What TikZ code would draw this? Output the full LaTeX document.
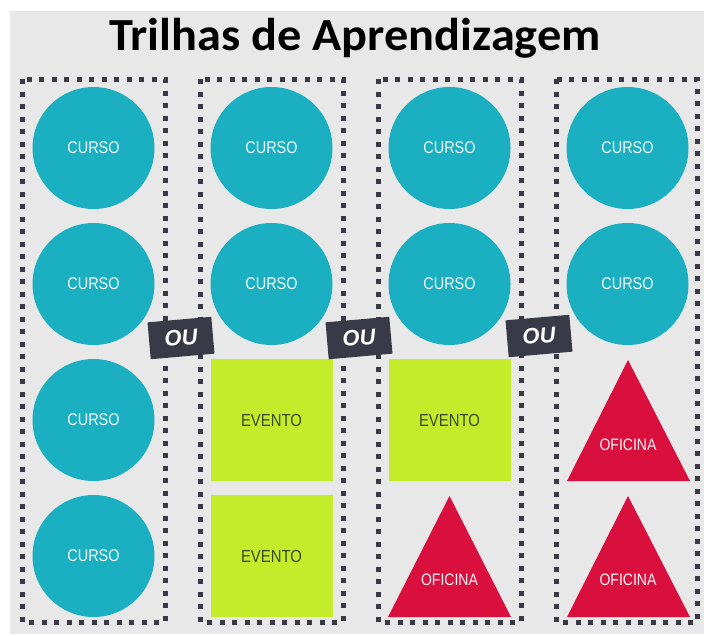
\documentclass[tikz,border=0pt]{standalone}
\usepackage{fontspec}
\usepackage{graphicx}
\setmainfont{Liberation Sans}
\newfontfamily\titlefont{Carlito}
\definecolor{bg}{HTML}{E8E8E8}
\definecolor{dotc}{HTML}{3A3A45}
\definecolor{teal}{HTML}{1BAFC2}
\definecolor{lime}{HTML}{C4EC2A}
\definecolor{crim}{HTML}{D90F3E}
\definecolor{olive}{HTML}{3E4A1A}
\definecolor{oubg}{HTML}{393A47}
\newcommand{\lbl}[1]{\scalebox{0.85}[1]{#1}}
\tikzset{
  dotcol/.style={draw=dotc, line width=5pt, dash pattern=on 5pt off 7.5pt},
  curso/.style={circle, fill=teal, minimum size=122pt, inner sep=0pt, text=white!92!teal, font=\fontsize{17}{17}\selectfont},
  evento/.style={rectangle, fill=lime, minimum size=122pt, inner sep=0pt, text=olive, font=\fontsize{17.5}{17.5}\selectfont},
  tri/.style={fill=crim},
  trilbl/.style={text=white!95!crim, font=\fontsize{16.5}{16.5}\selectfont, inner sep=0pt},
  oubox/.style={fill=oubg, minimum width=64pt, minimum height=37pt, inner sep=0pt, text=white, font=\fontsize{22}{22}\selectfont\bfseries\itshape, rotate=5}
}
\begin{document}
\begin{tikzpicture}[x=1pt,y=-1pt]
\useasboundingbox (0,0) rectangle (704,635);
\fill[white] (0,0) rectangle (704,635);
\fill[bg] (10,11) rectangle (704,634);
\node[font=\titlefont\bfseries\fontsize{46}{46}\selectfont, anchor=base, inner sep=0pt] (title) at (355,50) {\scalebox{1.05}[1]{Trilhas de Aprendizagem}};

% columns
\draw[dotcol] (22,79) rectangle (165,622);
\draw[dotcol] (200,79) rectangle (343,622);
\draw[dotcol] (378,79) rectangle (521,622);
\draw[dotcol] (556,79) rectangle (697,622);

% column 1
\node[curso] (c11) at (93.5,148) {\lbl{CURSO}};
\node[curso] (c12) at (93.5,284) {\lbl{CURSO}};
\node[curso] (c13) at (93.5,420) {\lbl{CURSO}};
\node[curso] (c14) at (93.5,556) {\lbl{CURSO}};

% column 2
\node[curso] (c21) at (271.5,148) {\lbl{CURSO}};
\node[curso] (c22) at (271.5,284) {\lbl{CURSO}};
\node[evento] (e23) at (271.5,420) {\lbl{EVENTO}};
\node[evento] (e24) at (271.5,556) {\lbl{EVENTO}};

% column 3
\node[curso] (c31) at (449.5,148) {\lbl{CURSO}};
\node[curso] (c32) at (449.5,284) {\lbl{CURSO}};
\node[evento] (e33) at (449.5,420) {\lbl{EVENTO}};
\fill[tri] (449.5,496) -- (511,617) -- (388,617) -- cycle;
\node[trilbl] (o34) at (449.5,580) {\lbl{OFICINA}};

% column 4
\node[curso] (c41) at (627.5,148) {\lbl{CURSO}};
\node[curso] (c42) at (627.5,284) {\lbl{CURSO}};
\fill[tri] (628,360) -- (690,481) -- (567,481) -- cycle;
\node[trilbl] (o43) at (628,445) {\lbl{OFICINA}};
\fill[tri] (628,496) -- (690,617) -- (567,617) -- cycle;
\node[trilbl] (o44) at (628,580) {\lbl{OFICINA}};

% OU labels
\node[oubox] (ou1) at (181,338) {OU};
\node[oubox] (ou2) at (359,338) {OU};
\node[oubox] (ou3) at (539,336) {OU};
\end{tikzpicture}
\end{document}
